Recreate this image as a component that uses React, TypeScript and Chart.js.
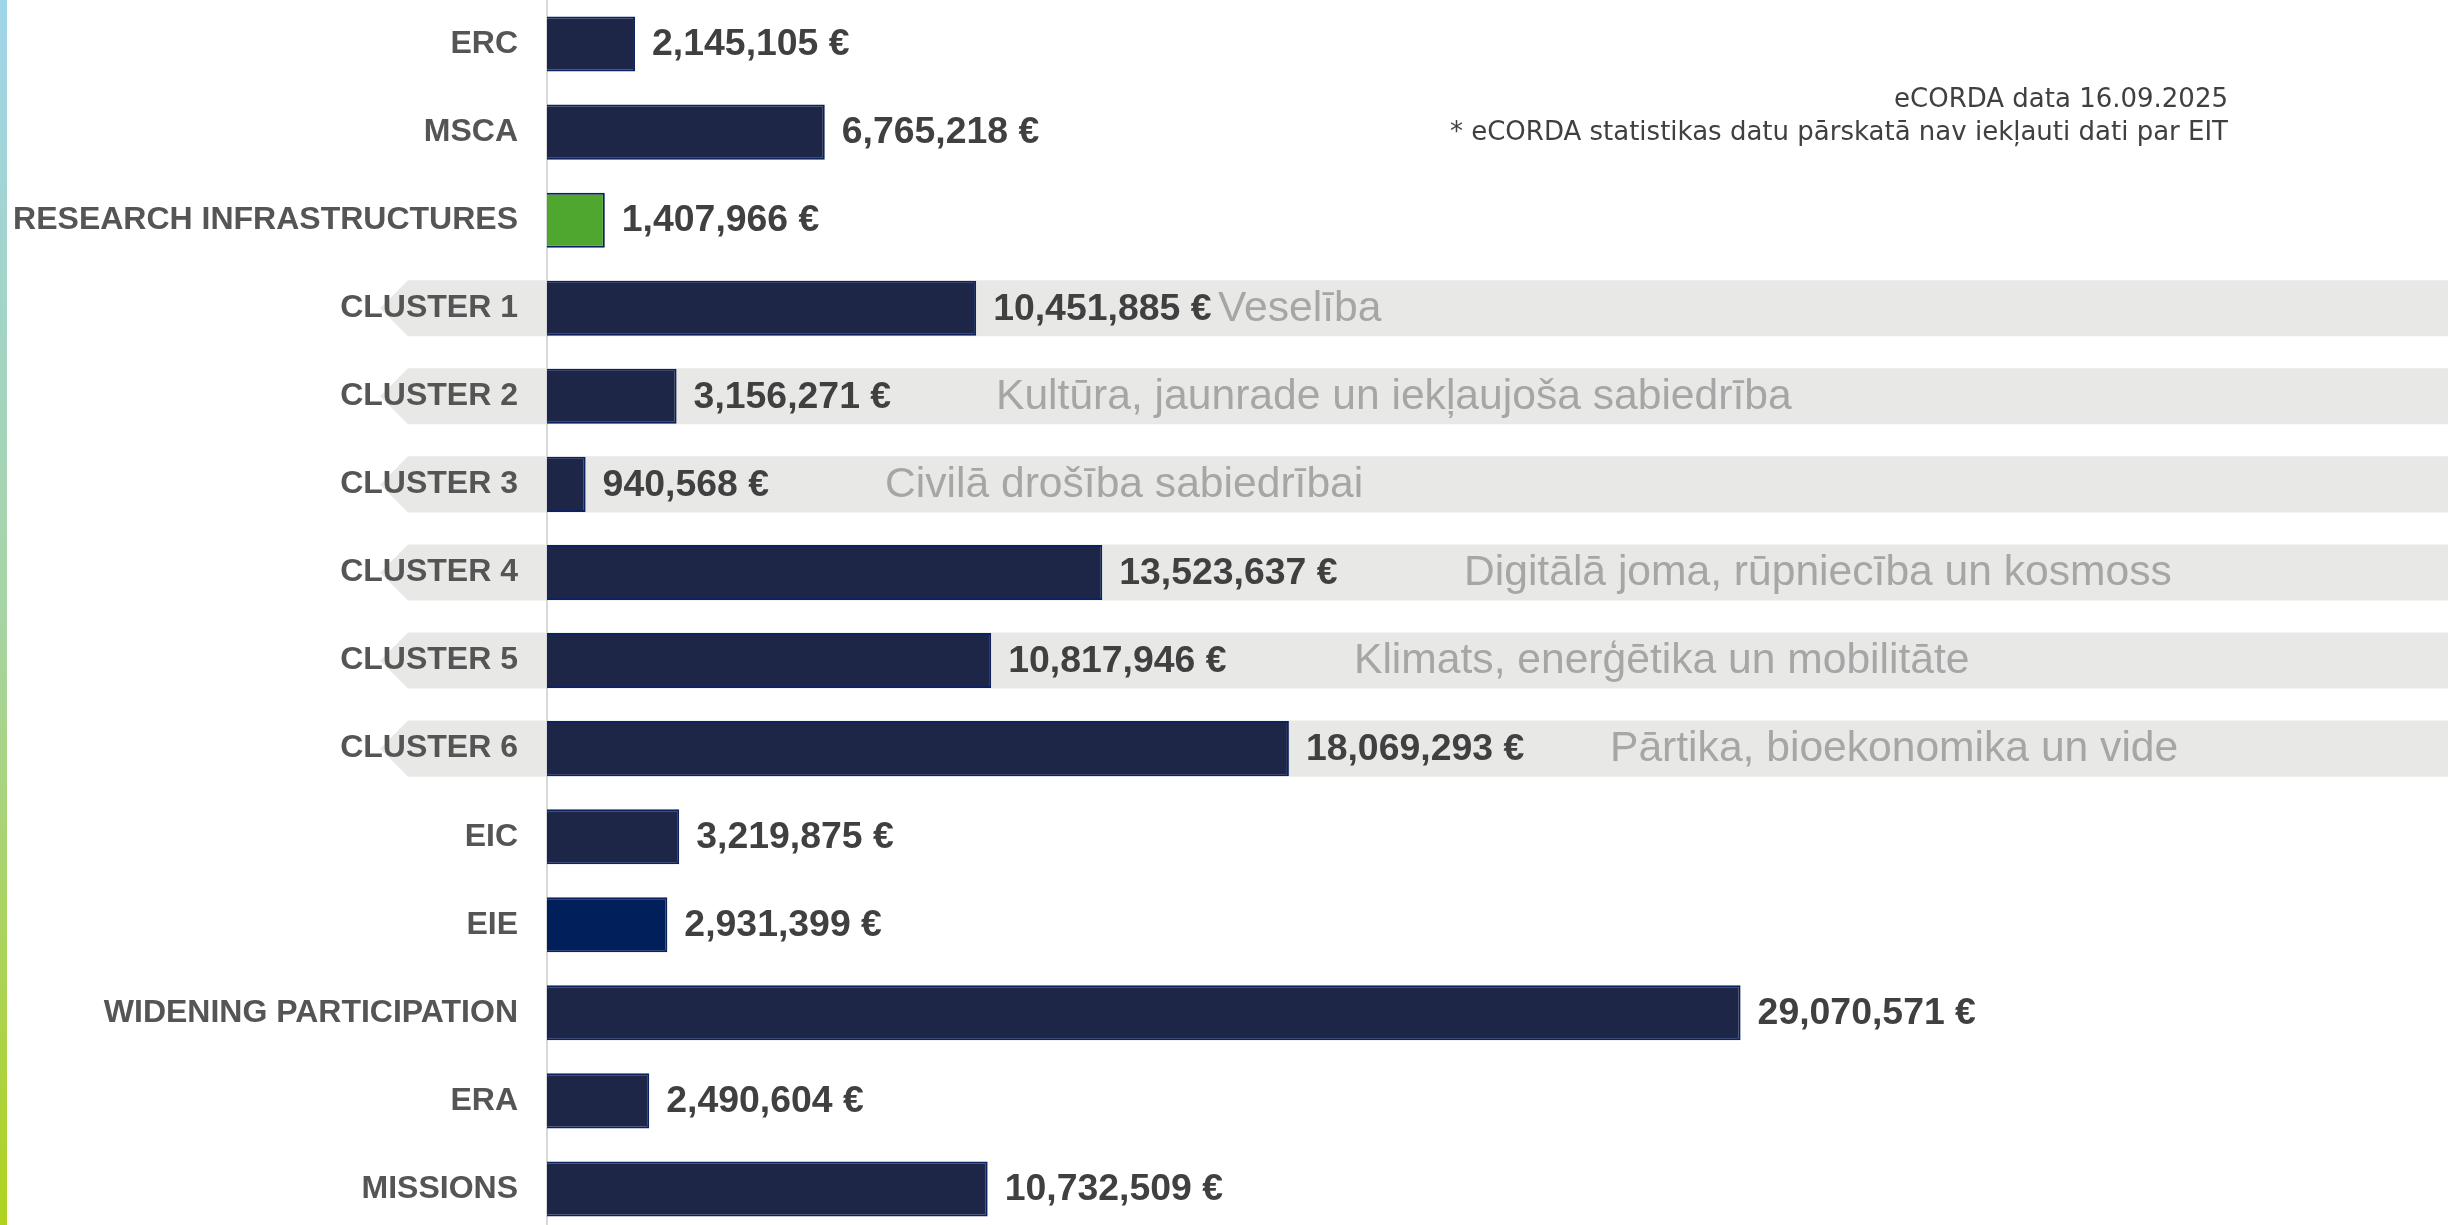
import React, { useEffect, useRef } from "react";
import { Chart, registerables } from "chart.js";

Chart.register(...registerables);

// ---- data ----
const categories = [
  "ERC",
  "MSCA",
  "RESEARCH INFRASTRUCTURES",
  "CLUSTER 1",
  "CLUSTER 2",
  "CLUSTER 3",
  "CLUSTER 4",
  "CLUSTER 5",
  "CLUSTER 6",
  "EIC",
  "EIE",
  "WIDENING PARTICIPATION",
  "ERA",
  "MISSIONS",
];

const funding = [
  2145105, 6765218, 1407966, 10451885, 3156271, 940568, 13523637, 10817946,
  18069293, 3219875, 2931399, 29070571, 2490604, 10732509,
];

const clusterDescriptions = [
  "",
  "",
  "",
  "Veselība",
  "Kultūra, jaunrade un iekļaujoša sabiedrība",
  "Civilā drošība sabiedrībai",
  "Digitālā joma, rūpniecība un kosmoss",
  "Klimats, enerģētika un mobilitāte",
  "Pārtika, bioekonomika un vide",
  "",
  "",
  "",
  "",
  "",
];

const noteLines = [
  "eCORDA data 16.09.2025",
  "* eCORDA statistikas datu pārskatā nav iekļauti dati par EIT",
];

// ---- layout / style (not data) ----
const W = 2448;
const H = 1233;
const AXIS_X = 547;
const DESC_LEFT = [0, 0, 0, 1218, 996, 885, 1464, 1354, 1610, 0, 0, 0, 0, 0];
const FONT = "'Liberation Sans', Arial, sans-serif";

const barFill = (i: number) =>
  i === 2 ? "#4fa72f" : i === 10 ? "#001f5b" : "#1d2646";

const fmt = (v: number) => v.toLocaleString("en-US") + " €";

const decorPlugin = {
  id: "decor",
  beforeDraw(chart: any) {
    const ctx = chart.ctx;
    const y = chart.scales.y;
    // left gradient strip
    const g = ctx.createLinearGradient(0, 0, 0, 1225);
    g.addColorStop(0, "#9fd5ea");
    g.addColorStop(0.5, "#a6d4a4");
    g.addColorStop(1, "#afd31f");
    ctx.save();
    ctx.fillStyle = g;
    ctx.fillRect(0, 0, 7, H);
    // gray bands for clusters
    const meta = chart.getDatasetMeta(0);
    ctx.fillStyle = "#e8e8e6";
    clusterDescriptions.forEach((d, i) => {
      if (!d) return;
      const bar = meta.data[i] as any;
      const cy = y.getPixelForValue(i);
      const h = bar.height + 1;
      const top = cy - h / 2;
      const bot = cy + h / 2;
      ctx.beginPath();
      ctx.moveTo(408, top);
      ctx.lineTo(chart.width, top);
      ctx.lineTo(chart.width, bot);
      ctx.lineTo(408, bot);
      ctx.lineTo(380, cy);
      ctx.closePath();
      ctx.fill();
    });
    ctx.restore();
  },
  afterDatasetsDraw(chart: any) {
    const ctx = chart.ctx;
    const meta = chart.getDatasetMeta(0);
    ctx.save();
    ctx.textBaseline = "middle";
    ctx.textAlign = "left";
    meta.data.forEach((bar: any, i: number) => {
      ctx.font = `bold 37.4px ${FONT}`;
      ctx.fillStyle = "#404040";
      ctx.fillText(fmt(funding[i]), bar.x + 17, bar.y + 1);
      if (clusterDescriptions[i]) {
        ctx.font = `42.6px ${FONT}`;
        ctx.fillStyle = "#a6a6a6";
        ctx.fillText(clusterDescriptions[i], DESC_LEFT[i], bar.y + 1);
      }
    });
    // footnote
    ctx.textAlign = "right";
    ctx.fillStyle = "#404040";
    ctx.font = `26px 'DejaVu Sans', sans-serif`;
    ctx.fillText(noteLines[0], 2228, 100);
    ctx.fillText(noteLines[1], 2228, 133);
    ctx.restore();
  },
};

export default function App() {
  const ref = useRef<HTMLCanvasElement | null>(null);
  useEffect(() => {
    if (!ref.current) return;
    const chart = new Chart(ref.current, {
      type: "bar",
      data: {
        labels: categories,
        datasets: [
          {
            data: funding,
            backgroundColor: funding.map((_, i) => barFill(i)),
            borderColor: "#0b2160",
            borderWidth: 2,
            categoryPercentage: 1,
            barPercentage: 0.625,
          },
        ],
      },
      options: {
        indexAxis: "y",
        animation: false,
        responsive: false,
        maintainAspectRatio: false,
        layout: { padding: 0, autoPadding: false },
        plugins: {
          legend: { display: false },
          tooltip: { enabled: false },
          title: { display: false },
        },
        scales: {
          x: {
            display: false,
            min: 0,
            max: 46300000,
          },
          y: {
            position: "left",
            grid: { display: false, drawTicks: false },
            border: { display: true, color: "#d9d9d9", width: 2 },
            ticks: {
              padding: 29,
              color: "#555555",
              font: { family: FONT, size: 32, weight: "bold" },
            },
            afterFit(scale: any) {
              scale.width = AXIS_X;
              scale.paddingTop = 0;
              scale.paddingBottom = 0;
            },
          },
        },
      },
      plugins: [decorPlugin],
    });
    return () => chart.destroy();
  }, []);
  return (
    <div
      style={{
        position: "fixed",
        left: 0,
        top: 0,
        width: W,
        height: H,
        background: "#ffffff",
      }}
    >
      <canvas ref={ref} width={W} height={H} style={{ width: W, height: H }} />
    </div>
  );
}
